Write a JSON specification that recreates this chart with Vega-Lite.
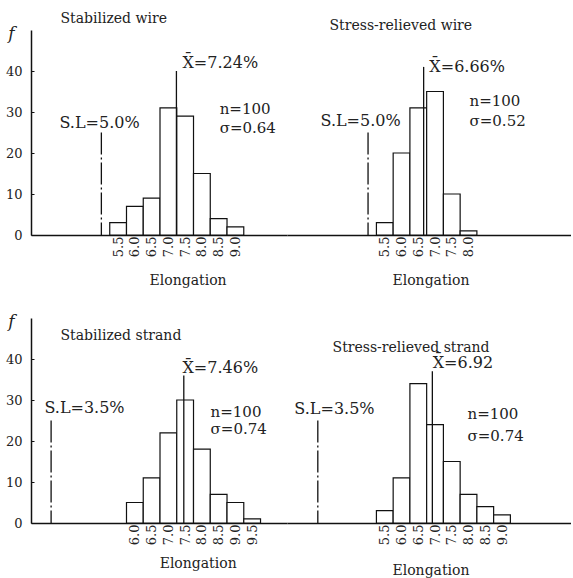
{
  "$schema": "https://vega.github.io/schema/vega-lite/v6.json",
  "background": "white",
  "padding": {"left": 5, "top": 11, "right": 0, "bottom": 0},
  "bounds": "flush",
  "columns": 2,
  "spacing": {"row": 83, "column": 0},
  "datasets": {
    "hist": [
      {"panel": "TL", "elongation": 5.25, "elongation_end": 5.75, "f": 3},
      {"panel": "TL", "elongation": 5.75, "elongation_end": 6.25, "f": 7},
      {"panel": "TL", "elongation": 6.25, "elongation_end": 6.75, "f": 9},
      {"panel": "TL", "elongation": 6.75, "elongation_end": 7.25, "f": 31},
      {"panel": "TL", "elongation": 7.25, "elongation_end": 7.75, "f": 29},
      {"panel": "TL", "elongation": 7.75, "elongation_end": 8.25, "f": 15},
      {"panel": "TL", "elongation": 8.25, "elongation_end": 8.75, "f": 4},
      {"panel": "TL", "elongation": 8.75, "elongation_end": 9.25, "f": 2},
      {"panel": "TR", "elongation": 5.25, "elongation_end": 5.75, "f": 3},
      {"panel": "TR", "elongation": 5.75, "elongation_end": 6.25, "f": 20},
      {"panel": "TR", "elongation": 6.25, "elongation_end": 6.75, "f": 31},
      {"panel": "TR", "elongation": 6.75, "elongation_end": 7.25, "f": 35},
      {"panel": "TR", "elongation": 7.25, "elongation_end": 7.75, "f": 10},
      {"panel": "TR", "elongation": 7.75, "elongation_end": 8.25, "f": 1},
      {"panel": "BL", "elongation": 5.75, "elongation_end": 6.25, "f": 5},
      {"panel": "BL", "elongation": 6.25, "elongation_end": 6.75, "f": 11},
      {"panel": "BL", "elongation": 6.75, "elongation_end": 7.25, "f": 22},
      {"panel": "BL", "elongation": 7.25, "elongation_end": 7.75, "f": 30},
      {"panel": "BL", "elongation": 7.75, "elongation_end": 8.25, "f": 18},
      {"panel": "BL", "elongation": 8.25, "elongation_end": 8.75, "f": 7},
      {"panel": "BL", "elongation": 8.75, "elongation_end": 9.25, "f": 5},
      {"panel": "BL", "elongation": 9.25, "elongation_end": 9.75, "f": 1},
      {"panel": "BR", "elongation": 5.25, "elongation_end": 5.75, "f": 3},
      {"panel": "BR", "elongation": 5.75, "elongation_end": 6.25, "f": 11},
      {"panel": "BR", "elongation": 6.25, "elongation_end": 6.75, "f": 34},
      {"panel": "BR", "elongation": 6.75, "elongation_end": 7.25, "f": 24},
      {"panel": "BR", "elongation": 7.25, "elongation_end": 7.75, "f": 15},
      {"panel": "BR", "elongation": 7.75, "elongation_end": 8.25, "f": 7},
      {"panel": "BR", "elongation": 8.25, "elongation_end": 8.75, "f": 4},
      {"panel": "BR", "elongation": 8.75, "elongation_end": 9.25, "f": 2}
    ],
    "lines": [
      {"panel": "TL", "kind": "SL", "elongation": 5.0, "f": 25},
      {"panel": "TL", "kind": "mean", "elongation": 7.24, "f": 40},
      {"panel": "TR", "kind": "SL", "elongation": 5.0, "f": 25},
      {"panel": "TR", "kind": "mean", "elongation": 6.66, "f": 41},
      {"panel": "BL", "kind": "SL", "elongation": 3.5, "f": 25},
      {"panel": "BL", "kind": "mean", "elongation": 7.46, "f": 36},
      {"panel": "BR", "kind": "SL", "elongation": 3.5, "f": 25},
      {"panel": "BR", "kind": "mean", "elongation": 6.92, "f": 37}
    ],
    "notes": [
      {"panel": "TL", "role": "head", "text": "Stabilized wire", "elongation": 3.78, "f": 52.7},
      {"panel": "TL", "role": "head", "text": "Elongation", "elongation": 6.44, "f": -11.2},
      {"panel": "TL", "role": "mark", "text": "S.L=5.0%", "elongation": 3.75, "f": 27.3},
      {"panel": "TL", "role": "mark", "text": "X̄=7.24%", "elongation": 7.42, "f": 42},
      {"panel": "TL", "role": "stat", "text": "n=100", "elongation": 8.53, "f": 30.7},
      {"panel": "TL", "role": "stat", "text": "σ=0.64", "elongation": 8.53, "f": 26.1},
      {"panel": "TR", "role": "head", "text": "Stress-relieved wire", "elongation": 3.85, "f": 51},
      {"panel": "TR", "role": "head", "text": "Elongation", "elongation": 5.73, "f": -11.2},
      {"panel": "TR", "role": "mark", "text": "S.L=5.0%", "elongation": 3.58, "f": 27.8},
      {"panel": "TR", "role": "mark", "text": "X̄=6.66%", "elongation": 6.83, "f": 41},
      {"panel": "TR", "role": "stat", "text": "n=100", "elongation": 8.03, "f": 32.7},
      {"panel": "TR", "role": "stat", "text": "σ=0.52", "elongation": 8.03, "f": 27.8},
      {"panel": "BL", "role": "head", "text": "Stabilized strand", "elongation": 3.78, "f": 45.6},
      {"panel": "BL", "role": "head", "text": "Elongation", "elongation": 6.74, "f": -10},
      {"panel": "BL", "role": "mark", "text": "S.L=3.5%", "elongation": 3.3, "f": 28},
      {"panel": "BL", "role": "mark", "text": "X̄=7.46%", "elongation": 7.42, "f": 37.7},
      {"panel": "BL", "role": "stat", "text": "n=100", "elongation": 8.26, "f": 27.0},
      {"panel": "BL", "role": "stat", "text": "σ=0.74", "elongation": 8.26, "f": 22.9},
      {"panel": "BR", "role": "head", "text": "Stress-relieved strand", "elongation": 3.94, "f": 42.8},
      {"panel": "BR", "role": "head", "text": "Elongation", "elongation": 5.73, "f": -11.7},
      {"panel": "BR", "role": "mark", "text": "S.L=3.5%", "elongation": 2.8, "f": 27.8},
      {"panel": "BR", "role": "mark", "text": "X̄=6.92", "elongation": 6.93, "f": 39.1},
      {"panel": "BR", "role": "stat", "text": "n=100", "elongation": 7.97, "f": 26.5},
      {"panel": "BR", "role": "stat", "text": "σ=0.74", "elongation": 7.97, "f": 21.2}
    ]
  },
  "concat": [
    {
      "width": 256, "height": 205,
      "encoding": {
        "x": {"field": "elongation", "type": "quantitative", "scale": {"domain": [2.9, 10.54], "nice": false, "zero": false},
              "axis": {"values": [5.5, 6.0, 6.5, 7.0, 7.5, 8.0, 8.5, 9.0], "format": ".1f", "labelAngle": -90, "title": null, "domainWidth": 1.6, "tickSize": -3, "labelPadding": 4, "labelFontSize": 13}},
        "y": {"field": "f", "type": "quantitative", "scale": {"domain": [0, 50], "nice": false},
              "axis": {"values": [0, 10, 20, 30, 40], "title": "f", "titleAngle": 0, "titleFontStyle": "italic", "titleFontSize": 17, "titleX": -20, "titleY": 3, "titleAlign": "center", "titleBaseline": "middle", "tickSize": -3, "labelPadding": 12, "labelFontSize": 13, "domainWidth": 1.5}}
      },
      "layer": [
        {"data": {"name": "hist"}, "transform": [{"filter": "datum.panel === 'TL'"}],
         "mark": {"type": "rect", "fill": "white", "stroke": "#111", "strokeWidth": 1.2},
         "encoding": {"x2": {"field": "elongation_end"}, "y2": {"datum": 0}}},
        {"data": {"name": "lines"}, "transform": [{"filter": "datum.panel === 'TL' && datum.kind === 'SL'"}],
         "mark": {"type": "rule", "strokeDash": [22, 3, 2, 3], "strokeWidth": 1.3, "color": "#111"},
         "encoding": {"y2": {"datum": 0}}},
        {"data": {"name": "lines"}, "transform": [{"filter": "datum.panel === 'TL' && datum.kind === 'mean'"}],
         "mark": {"type": "rule", "strokeWidth": 1.3, "color": "#111"},
         "encoding": {"y2": {"datum": 0}}},
        {"data": {"name": "notes"}, "transform": [{"filter": "datum.panel === 'TL' && datum.role === 'head'"}],
         "mark": {"type": "text", "align": "left", "baseline": "middle", "fontSize": 14, "color": "#222"},
         "encoding": {"text": {"field": "text"}}},
        {"data": {"name": "notes"}, "transform": [{"filter": "datum.panel === 'TL' && datum.role === 'mark'"}],
         "mark": {"type": "text", "align": "left", "baseline": "middle", "fontSize": 16, "color": "#222"},
         "encoding": {"text": {"field": "text"}}},
        {"data": {"name": "notes"}, "transform": [{"filter": "datum.panel === 'TL' && datum.role === 'stat'"}],
         "mark": {"type": "text", "align": "left", "baseline": "middle", "fontSize": 15, "color": "#222"},
         "encoding": {"text": {"field": "text"}}}
      ]
    },
    {
      "width": 284, "height": 205,
      "encoding": {
        "x": {"field": "elongation", "type": "quantitative", "scale": {"domain": [2.58, 11.06], "nice": false, "zero": false},
              "axis": {"values": [5.5, 6.0, 6.5, 7.0, 7.5, 8.0], "format": ".1f", "labelAngle": -90, "title": null, "domainWidth": 1.6, "tickSize": -3, "labelPadding": 4, "labelFontSize": 13}},
        "y": {"field": "f", "type": "quantitative", "scale": {"domain": [0, 50], "nice": false}, "axis": null}
      },
      "layer": [
        {"data": {"name": "hist"}, "transform": [{"filter": "datum.panel === 'TR'"}],
         "mark": {"type": "rect", "fill": "white", "stroke": "#111", "strokeWidth": 1.2},
         "encoding": {"x2": {"field": "elongation_end"}, "y2": {"datum": 0}}},
        {"data": {"name": "lines"}, "transform": [{"filter": "datum.panel === 'TR' && datum.kind === 'SL'"}],
         "mark": {"type": "rule", "strokeDash": [22, 3, 2, 3], "strokeWidth": 1.3, "color": "#111"},
         "encoding": {"y2": {"datum": 0}}},
        {"data": {"name": "lines"}, "transform": [{"filter": "datum.panel === 'TR' && datum.kind === 'mean'"}],
         "mark": {"type": "rule", "strokeWidth": 1.3, "color": "#111"},
         "encoding": {"y2": {"datum": 0}}},
        {"data": {"name": "notes"}, "transform": [{"filter": "datum.panel === 'TR' && datum.role === 'head'"}],
         "mark": {"type": "text", "align": "left", "baseline": "middle", "fontSize": 14, "color": "#222"},
         "encoding": {"text": {"field": "text"}}},
        {"data": {"name": "notes"}, "transform": [{"filter": "datum.panel === 'TR' && datum.role === 'mark'"}],
         "mark": {"type": "text", "align": "left", "baseline": "middle", "fontSize": 16, "color": "#222"},
         "encoding": {"text": {"field": "text"}}},
        {"data": {"name": "notes"}, "transform": [{"filter": "datum.panel === 'TR' && datum.role === 'stat'"}],
         "mark": {"type": "text", "align": "left", "baseline": "middle", "fontSize": 15, "color": "#222"},
         "encoding": {"text": {"field": "text"}}}
      ]
    },
    {
      "width": 256, "height": 205,
      "encoding": {
        "x": {"field": "elongation", "type": "quantitative", "scale": {"domain": [2.9, 10.54], "nice": false, "zero": false},
              "axis": {"values": [6.0, 6.5, 7.0, 7.5, 8.0, 8.5, 9.0, 9.5], "format": ".1f", "labelAngle": -90, "title": null, "domainWidth": 1.6, "tickSize": -3, "labelPadding": 4, "labelFontSize": 13}},
        "y": {"field": "f", "type": "quantitative", "scale": {"domain": [0, 50], "nice": false},
              "axis": {"values": [0, 10, 20, 30, 40], "title": "f", "titleAngle": 0, "titleFontStyle": "italic", "titleFontSize": 17, "titleX": -20, "titleY": 3, "titleAlign": "center", "titleBaseline": "middle", "tickSize": -3, "labelPadding": 12, "labelFontSize": 13, "domainWidth": 1.5}}
      },
      "layer": [
        {"data": {"name": "hist"}, "transform": [{"filter": "datum.panel === 'BL'"}],
         "mark": {"type": "rect", "fill": "white", "stroke": "#111", "strokeWidth": 1.2},
         "encoding": {"x2": {"field": "elongation_end"}, "y2": {"datum": 0}}},
        {"data": {"name": "lines"}, "transform": [{"filter": "datum.panel === 'BL' && datum.kind === 'SL'"}],
         "mark": {"type": "rule", "strokeDash": [22, 3, 2, 3], "strokeWidth": 1.3, "color": "#111"},
         "encoding": {"y2": {"datum": 0}}},
        {"data": {"name": "lines"}, "transform": [{"filter": "datum.panel === 'BL' && datum.kind === 'mean'"}],
         "mark": {"type": "rule", "strokeWidth": 1.3, "color": "#111"},
         "encoding": {"y2": {"datum": 0}}},
        {"data": {"name": "notes"}, "transform": [{"filter": "datum.panel === 'BL' && datum.role === 'head'"}],
         "mark": {"type": "text", "align": "left", "baseline": "middle", "fontSize": 14, "color": "#222"},
         "encoding": {"text": {"field": "text"}}},
        {"data": {"name": "notes"}, "transform": [{"filter": "datum.panel === 'BL' && datum.role === 'mark'"}],
         "mark": {"type": "text", "align": "left", "baseline": "middle", "fontSize": 16, "color": "#222"},
         "encoding": {"text": {"field": "text"}}},
        {"data": {"name": "notes"}, "transform": [{"filter": "datum.panel === 'BL' && datum.role === 'stat'"}],
         "mark": {"type": "text", "align": "left", "baseline": "middle", "fontSize": 15, "color": "#222"},
         "encoding": {"text": {"field": "text"}}}
      ]
    },
    {
      "width": 284, "height": 205,
      "encoding": {
        "x": {"field": "elongation", "type": "quantitative", "scale": {"domain": [2.58, 11.06], "nice": false, "zero": false},
              "axis": {"values": [5.5, 6.0, 6.5, 7.0, 7.5, 8.0, 8.5, 9.0], "format": ".1f", "labelAngle": -90, "title": null, "domainWidth": 1.6, "tickSize": -3, "labelPadding": 4, "labelFontSize": 13}},
        "y": {"field": "f", "type": "quantitative", "scale": {"domain": [0, 50], "nice": false}, "axis": null}
      },
      "layer": [
        {"data": {"name": "hist"}, "transform": [{"filter": "datum.panel === 'BR'"}],
         "mark": {"type": "rect", "fill": "white", "stroke": "#111", "strokeWidth": 1.2},
         "encoding": {"x2": {"field": "elongation_end"}, "y2": {"datum": 0}}},
        {"data": {"name": "lines"}, "transform": [{"filter": "datum.panel === 'BR' && datum.kind === 'SL'"}],
         "mark": {"type": "rule", "strokeDash": [22, 3, 2, 3], "strokeWidth": 1.3, "color": "#111"},
         "encoding": {"y2": {"datum": 0}}},
        {"data": {"name": "lines"}, "transform": [{"filter": "datum.panel === 'BR' && datum.kind === 'mean'"}],
         "mark": {"type": "rule", "strokeWidth": 1.3, "color": "#111"},
         "encoding": {"y2": {"datum": 0}}},
        {"data": {"name": "notes"}, "transform": [{"filter": "datum.panel === 'BR' && datum.role === 'head'"}],
         "mark": {"type": "text", "align": "left", "baseline": "middle", "fontSize": 14, "color": "#222"},
         "encoding": {"text": {"field": "text"}}},
        {"data": {"name": "notes"}, "transform": [{"filter": "datum.panel === 'BR' && datum.role === 'mark'"}],
         "mark": {"type": "text", "align": "left", "baseline": "middle", "fontSize": 16, "color": "#222"},
         "encoding": {"text": {"field": "text"}}},
        {"data": {"name": "notes"}, "transform": [{"filter": "datum.panel === 'BR' && datum.role === 'stat'"}],
         "mark": {"type": "text", "align": "left", "baseline": "middle", "fontSize": 15, "color": "#222"},
         "encoding": {"text": {"field": "text"}}}
      ]
    }
  ],
  "config": {
    "view": {"stroke": null},
    "font": "DejaVu Serif",
    "text": {"font": "DejaVu Serif"},
    "axis": {"grid": false, "domainColor": "#111", "tickColor": "#111", "labelColor": "#222", "labelFont": "DejaVu Serif", "titleFont": "DejaVu Serif", "titleColor": "#222", "titleFontWeight": "normal"}
  }
}
